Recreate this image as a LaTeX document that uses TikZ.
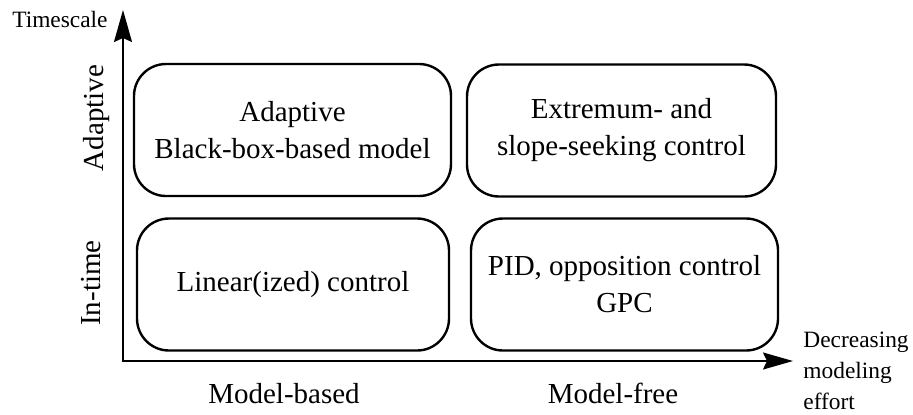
\documentclass[tikz,border=0pt]{standalone}
\usepackage{fontspec}
\setmainfont{Liberation Serif}
\usetikzlibrary{arrows.meta, positioning}

\begin{document}
\begin{tikzpicture}[
  x=0.5pt, y=-0.5pt,
  quadbox/.style={draw, line width=1.2pt, rounded corners=16pt, minimum height=66pt, inner sep=0pt, align=center, font=\fontsize{14.5pt}{18.5pt}\selectfont},
  biglabel/.style={inner sep=0pt, font=\fontsize{14.5pt}{18.5pt}\selectfont},
  smalllabel/.style={inner sep=0pt, align=left, font=\fontsize{11.7pt}{15.3pt}\selectfont},
  axisline/.style={line width=0.9pt, {Stealth[length=16pt, width=9pt, inset=2pt]}-{Stealth[length=15pt, width=8.5pt, inset=2pt]}}
]
\useasboundingbox (0,0) rectangle (913,414);

\coordinate (ytip) at (123,10);
\coordinate (xtip) at (793,361);
\draw[axisline] (ytip) |- (xtip);

\node[quadbox, minimum width=158.5pt] (adaptmodel) at (292.5,130) {Adaptive\\Black-box-based model};
\node[quadbox, minimum width=154.5pt] (seeking) at (621.5,130.5) {Extremum- and\\slope-seeking control};
\node[quadbox, minimum width=156pt] (linear) at (293,284.5) {Linear(ized) control};
\node[quadbox, minimum width=153.5pt] (pid) at (624.5,284.5) {PID, opposition control\\GPC};

\node[smalllabel, anchor=base east] (timescale) at (108,27) {Timescale};
\node[smalllabel, anchor=north west] (effort) at (803,332) {Decreasing\\modeling\\effort};

\node[biglabel, rotate=90] (adaptive) at (97,118) {Adaptive};
\node[biglabel, rotate=90] (intime) at (91,283) {In-time};
\node[biglabel, anchor=base] (modelbased) at (284,403) {Model-based};
\node[biglabel, anchor=base] (modelfree) at (613,403) {Model-free};

\end{tikzpicture}
\end{document}
